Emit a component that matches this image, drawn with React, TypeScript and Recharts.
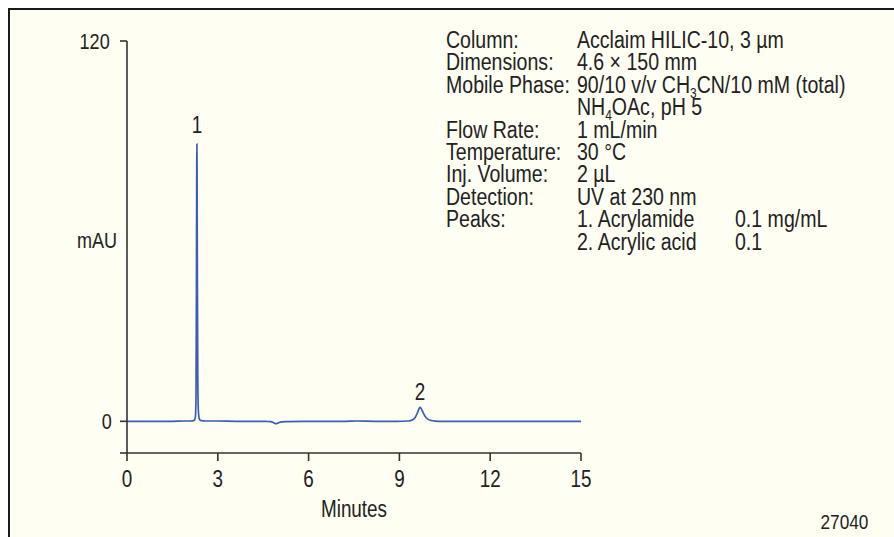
import { LineChart, Line, XAxis, YAxis, ReferenceDot } from 'recharts';

// retention time (min) and absorbance (mAU)
const times = [
  0, 0.5, 1.0, 1.5, 1.9, 2.1, 2.22, 2.26, 2.28, 2.295, 2.305, 2.31, 2.315, 2.325, 2.34, 2.36, 2.39,
  2.45, 2.6, 3.0, 3.6, 4.2, 4.6, 4.75, 4.85, 4.92, 5.0, 5.1, 5.3, 5.8, 6.5, 7.2, 7.6, 8.2, 8.9,
  9.3, 9.42, 9.52, 9.6, 9.65, 9.68, 9.72, 9.78, 9.86, 9.95, 10.05, 10.2, 10.4, 11.0, 12.0, 13.0,
  14.0, 15.0,
];
const mau = [
  0, 0, 0, 0, 0.1, 0.1, 0.3, 1.5, 8, 45, 82, 87.5, 80, 45, 12, 3, 0.8,
  0.2, 0.1, 0.1, 0, 0, -0.05, -0.1, -0.5, -0.75, -0.5, -0.2, -0.1, 0, 0, 0, 0.1, 0, 0,
  0.1, 0.4, 1.2, 2.8, 4.0, 4.4, 4.0, 2.8, 1.4, 0.6, 0.25, 0.05, -0.05, 0, 0, 0,
  0, 0,
];

const xTicks = [0, 3, 6, 9, 12, 15];
const yTicks = [-10, 0, 120];

const peakLabels = [
  { name: '1', t: 2.31, v: 87.5, offset: 11 },
  { name: '2', t: 9.68, v: 4.4, offset: 7 },
];

const conditions = [
  { label: 'Column:', value: <>Acclaim HILIC-10, 3 µm</> },
  { label: 'Dimensions:', value: <>4.6 × 150 mm</> },
  { label: 'Mobile Phase:', value: <>90/10 v/v CH<sub>3</sub>CN/10 mM (total)</> },
  { label: '', value: <>NH<sub>4</sub>OAc, pH 5</> },
  { label: 'Flow Rate:', value: <>1 mL/min</> },
  { label: 'Temperature:', value: <>30 °C</> },
  { label: 'Inj. Volume:', value: <>2 µL</> },
  { label: 'Detection:', value: <>UV at 230 nm</> },
];

const peaks = [
  { name: '1. Acrylamide', conc: '0.1 mg/mL' },
  { name: '2. Acrylic acid', conc: '0.1' },
];

const data = times.map((t, i) => ({ t, v: mau[i] }));

// no condensed font installed, so squeeze Liberation Sans like Arial Narrow
const NARROW = 0.82;
const BLOCK_NARROW = 0.85;
const FONT = '"Liberation Sans", Arial, sans-serif';
const INK = '#222';
const AXIS = '#333';

const css = `
html,body{margin:0;overflow:hidden}
sub{font-size:14px;vertical-align:-5px;line-height:0}
.recharts-surface text{transform-box:fill-box;transform-origin:50% 50%;transform:scaleX(${NARROW})}
.recharts-yAxis .recharts-cartesian-axis-tick-value{transform-origin:100% 50%}
`;

export default function App() {
  return (
    <div style={{ width: 894, height: 537, position: 'relative', overflow: 'hidden', background: '#fff' }}>
      <style>{css}</style>
      <div
        style={{
          position: 'absolute',
          left: 8,
          top: 8,
          width: 886,
          height: 529,
          boxSizing: 'border-box',
          borderTop: '2px solid #1a1a1a',
          borderLeft: '2px solid #1a1a1a',
          background: '#fefef2',
          fontFamily: FONT,
          color: INK,
        }}
      >
        <LineChart width={884} height={527} data={data} margin={{ top: 31, right: 313, bottom: 0, left: 57 }}>
          <XAxis
            dataKey="t"
            type="number"
            domain={[0, 15]}
            ticks={xTicks}
            tickSize={8}
            tickMargin={10}
            height={84}
            axisLine={{ stroke: AXIS, strokeWidth: 1.6 }}
            tickLine={{ stroke: AXIS, strokeWidth: 1.6 }}
            tick={{ fill: INK, fontSize: 23 }}
            label={{ value: 'Minutes', position: 'insideBottom', offset: 20, fill: INK, fontSize: 23 }}
          />
          <YAxis
            type="number"
            domain={[-10, 120]}
            ticks={yTicks}
            tickFormatter={(v: number) => (v === -10 ? '' : String(v))}
            tickSize={7}
            tickMargin={7}
            width={60}
            axisLine={{ stroke: AXIS, strokeWidth: 1.6 }}
            tickLine={{ stroke: AXIS, strokeWidth: 1.6 }}
            tick={{ fill: INK, fontSize: 22 }}
            label={{ value: 'mAU', position: 'center', dy: -7, fill: INK, fontSize: 22 }}
          />
          <Line
            type="monotone"
            dataKey="v"
            stroke="#3c5cb6"
            strokeWidth={1.7}
            dot={false}
            isAnimationActive={false}
          />
          {peakLabels.map((p) => (
            <ReferenceDot
              key={p.name}
              x={p.t}
              y={p.v}
              r={0}
              fill="none"
              stroke="none"
              label={{ value: p.name, position: 'top', offset: p.offset, fill: INK, fontSize: 23 }}
            />
          ))}
        </LineChart>

        <div
          style={{
            position: 'absolute',
            left: 436,
            top: 19,
            fontSize: 23,
            lineHeight: '22.4px',
            whiteSpace: 'nowrap',
            transform: `scaleX(${BLOCK_NARROW})`,
            transformOrigin: '0 0',
          }}
        >
          {conditions.map((c, i) => (
            <div key={i} style={{ display: 'flex' }}>
              <div style={{ width: 131 / BLOCK_NARROW }}>{c.label}</div>
              <div>{c.value}</div>
            </div>
          ))}
          {peaks.map((p, i) => (
            <div key={p.name} style={{ display: 'flex' }}>
              <div style={{ width: 131 / BLOCK_NARROW }}>{i === 0 ? 'Peaks:' : ''}</div>
              <div style={{ width: 158 / BLOCK_NARROW }}>{p.name}</div>
              <div>{p.conc}</div>
            </div>
          ))}
        </div>

        <div
          style={{
            position: 'absolute',
            right: 26,
            top: 500,
            fontSize: 21,
            lineHeight: '24px',
            transform: `scaleX(${NARROW})`,
            transformOrigin: '100% 0',
          }}
        >
          27040
        </div>
      </div>
    </div>
  );
}
